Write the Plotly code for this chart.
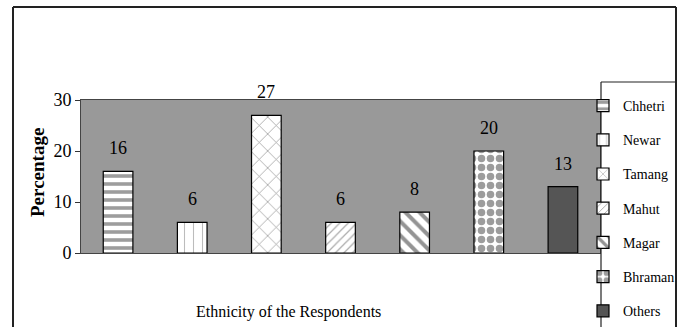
import plotly.graph_objects as go

# ---- data ----
categories = ["Chhetri", "Newar", "Tamang", "Mahut", "Magar", "Bhraman", "Others"]
percentages = [16, 6, 27, 6, 8, 20, 13]
y_ticks = [0, 10, 20, 30]
x_title = "Ethnicity of the Respondents"
y_title = "Percentage"

# ---- styles ----
patterns = [
    dict(shape="-", fgcolor="#3c3c3c", bgcolor="white", size=8, solidity=0.45),
    dict(shape="|", fgcolor="#7a7a7a", bgcolor="white", size=9, solidity=0.12),
    dict(shape="x", fgcolor="#333333", bgcolor="white", size=12, solidity=0.12),
    dict(shape="/", fgcolor="#555555", bgcolor="white", size=6, solidity=0.2),
    dict(shape="\\", fgcolor="#2a2a2a", bgcolor="white", size=10, solidity=0.4),
    dict(shape=".", fgcolor="#3a3a3a", bgcolor="white", size=9, solidity=0.55),
    dict(shape="", fgcolor="#555555", bgcolor="#555555"),
]
colors = ["white"] * 6 + ["#555555"]

W, H = 686, 327
L, T = 81, 100
PW, PH = 519, 153
R, B = W - L - PW, H - T - PH
FONT = "Liberation Serif, Times New Roman, serif"


def px_x(px):
    return (px - L) / PW


def px_y(py):
    return (T + PH - py) / PH


def hline(x0, x1, y, width, color="#222222"):
    fig.add_shape(type="line", xref="paper", yref="paper",
                  x0=px_x(x0), x1=px_x(x1), y0=px_y(y), y1=px_y(y),
                  line=dict(color=color, width=width), layer="above")


def vline(x, y0, y1, width, color="#222222"):
    fig.add_shape(type="line", xref="paper", yref="paper",
                  x0=px_x(x), x1=px_x(x), y0=px_y(y0), y1=px_y(y1),
                  line=dict(color=color, width=width), layer="above")


fig = go.Figure()
for i, (cat, val) in enumerate(zip(categories, percentages)):
    fig.add_trace(go.Bar(
        x=[cat], y=[val], name=cat, width=0.4,
        legendgroup=cat,
        marker=dict(color=colors[i], pattern=patterns[i],
                    line=dict(color="black", width=1.2)),
    ))
    fig.add_annotation(x=cat, y=val, text=str(val), showarrow=False,
                       yanchor="middle", yshift=23,
                       font=dict(family=FONT, size=18, color="black"))

fig.add_annotation(xref="paper", yref="paper", x=px_x(288), y=px_y(312),
                   text=x_title, showarrow=False, xanchor="center", yanchor="middle",
                   font=dict(family=FONT, size=16, color="black"))
fig.add_annotation(xref="paper", yref="paper", x=px_x(37), y=px_y(173),
                   text="<b>" + y_title + "</b>", showarrow=False, textangle=-90,
                   xanchor="center", yanchor="middle",
                   font=dict(family=FONT, size=19, color="black"))

# outer frame
vline(13, 7, 340, 2)
hline(13, 676, 7, 2)
vline(676, 7, 340, 2)
# legend box
vline(601, 82, 340, 1.2)
hline(601, 676, 82, 1.2)

fig.update_layout(
    width=W, height=H,
    margin=dict(l=L, r=R, t=T, b=B, autoexpand=False),
    barmode="overlay",
    paper_bgcolor="white",
    plot_bgcolor="#999999",
    font=dict(family=FONT, color="black"),
    showlegend=True,
    legend=dict(
        x=px_x(583), y=px_y(90), xanchor="left", yanchor="top",
        bgcolor="rgba(0,0,0,0)", borderwidth=0,
        traceorder="grouped", tracegroupgap=13,
        maxheight=400,
        font=dict(family=FONT, size=14, color="black"),
    ),
    xaxis=dict(showticklabels=False, ticks="", showgrid=False,
               showline=True, linecolor="#444444", linewidth=1, mirror=True,
               zeroline=False),
    yaxis=dict(range=[0, 30], tickvals=y_ticks, ticks="outside", ticklen=5,
               tickcolor="#333333", showgrid=False,
               showline=True, linecolor="#444444", linewidth=1, mirror=True,
               zeroline=False,
               tickfont=dict(family=FONT, size=18, color="black")),
)

fig.write_html("out.html", config={"displayModeBar": False},
               post_script="document.body.style.margin='0px';"
                           "document.body.style.overflow='hidden';")
